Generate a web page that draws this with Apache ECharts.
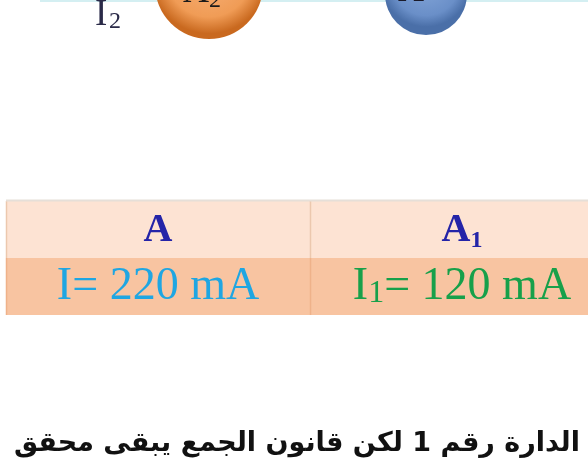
<!DOCTYPE html>
<html><head><meta charset="utf-8">
<script src="https://cdn.jsdelivr.net/npm/echarts@6/dist/echarts.min.js"></script>
<style>html,body{margin:0;padding:0;background:#fff}#c{width:588px;height:468px}</style>
</head><body><div id="c"></div>
<script>
// ---- data ----
const meterNames = ['A', 'A1'];          // ammeters (table header)
const currentNames = ['I', 'I1'];        // current symbols
const currentValues = [220, 120];        // mA
const unit = 'mA';
const rowKeys = ['meter', 'current'];
const caption = 'الدارة رقم 1 لكن قانون الجمع يبقى محقق';
const topLabels = ['I2', 'A2', 'A1'];

// ---- styles ----
const SERIF = '"Liberation Serif","Times New Roman",serif';
const valueColors = ['#1fa6e2', '#17a04a'];
const headerColor = '#2424a8';

function subText(name, mainStyle, subStyle) {
  const base = name.charAt(0), sub = name.slice(1);
  return '{' + mainStyle + '|' + base + '}' + (sub ? '{' + subStyle + '|' + sub + '}' : '');
}

const rich = {
  h: { fontFamily: SERIF, fontSize: 40, fontWeight: 'bold', fill: headerColor, lineHeight: 44 },
  hs: { fontFamily: SERIF, fontSize: 24, fontWeight: 'bold', fill: headerColor, lineHeight: 34, verticalAlign: 'bottom' }
};
valueColors.forEach((c, i) => {
  rich['v' + i] = { fontFamily: SERIF, fontSize: 46, fill: c, lineHeight: 46 };
  rich['vs' + i] = { fontFamily: SERIF, fontSize: 32, fill: c, lineHeight: 28, verticalAlign: 'bottom' };
});

const cells = [];
meterNames.forEach((m, i) => rowKeys.forEach((r, j) => cells.push([i, j])));

// baseline helper for plain graphic texts (zrender draws with a 'middle' baseline)
function base(y, size) { return y - 0.34 * size; }

const chart = echarts.init(document.getElementById('c'), null, { renderer: 'canvas' });
chart.setOption({
  animation: false,
  backgroundColor: '#ffffff',
  grid: { left: 6, top: 201, right: 0, height: 114 },
  xAxis: { type: 'value', min: -0.5, max: 1.4145, show: false },
  yAxis: { type: 'category', data: rowKeys, show: false, inverse: true, boundaryGap: true },
  series: [{
    type: 'custom',
    clip: false,
    data: cells,
    encode: { x: 0, y: 1 },
    renderItem: function (params, api) {
      const col = api.value(0), row = api.value(1);
      const c = api.coord([col, row]);
      const s = api.size([1, 1]);
      const x = c[0] - s[0] / 2, y = c[1] - s[1] / 2;
      let text;
      if (row === 0) {
        text = subText(meterNames[col], 'h', 'hs');
      } else {
        text = subText(currentNames[col], 'v' + col, 'vs' + col) +
          '{v' + col + '|= ' + currentValues[col] + ' ' + unit + '}';
      }
      const children = [
        { type: 'rect', shape: { x: x, y: y, width: s[0], height: s[1] },
          style: { fill: row === 0 ? '#fde3d3' : '#f8c4a1' } },
        { type: 'line', shape: { x1: x + 0.5, y1: y, x2: x + 0.5, y2: y + s[1] },
          style: { stroke: row === 0 ? '#ecc8ae' : '#efb28a', lineWidth: 1.5 } },
        { type: 'text', x: c[0], y: c[1] + (row === 0 ? 1 : 0),
          style: { text: text, rich: rich, align: 'center', verticalAlign: 'middle' } }
      ];
      if (row === 0) {
        children.push({ type: 'line', shape: { x1: x, y1: y - 0.5, x2: x + s[0], y2: y - 0.5 },
          style: { stroke: '#e6dfd8', lineWidth: 2 } });
      }
      return { type: 'group', children: children };
    }
  }],
  graphic: [
    // wire at the top
    { type: 'line', shape: { x1: 40, y1: 1, x2: 588, y2: 1 }, style: { stroke: '#d4eff2', lineWidth: 2 } },
    // ammeter A2 (orange)
    { type: 'circle', shape: { cx: 209, cy: -15, r: 54 },
      style: { fill: { type: 'radial', x: 0.5, y: 0.4, r: 0.55,
        colorStops: [{ offset: 0, color: '#f7b27c' }, { offset: 0.72, color: '#f09c56' }, { offset: 1, color: '#c9691f' }] } } },
    { type: 'text', x: 183, y: base(5, 36), style: { text: topLabels[1].charAt(0), font: '36px ' + SERIF, fill: '#1a1a1a', verticalAlign: 'middle' } },
    { type: 'text', x: 209, y: base(9, 24), style: { text: topLabels[1].slice(1), font: '24px ' + SERIF, fill: '#1a1a1a', verticalAlign: 'middle' } },
    // ammeter A1 (blue)
    { type: 'circle', shape: { cx: 426, cy: -6, r: 41 },
      style: { fill: { type: 'radial', x: 0.5, y: 0.35, r: 0.55,
        colorStops: [{ offset: 0, color: '#86a8da' }, { offset: 0.75, color: '#6a8fc8' }, { offset: 1, color: '#4a6fa8' }] } } },
    { type: 'text', x: 398, y: base(4, 36), style: { text: topLabels[2].charAt(0), font: '36px ' + SERIF, fill: '#1a1a2a', verticalAlign: 'middle' } },
    // I2 label
    { type: 'text', x: 95, y: base(28, 37), style: { text: topLabels[0].charAt(0), font: '37px ' + SERIF, fill: '#2a2a48', verticalAlign: 'middle' } },
    { type: 'text', x: 109, y: base(30, 24), style: { text: topLabels[0].slice(1), font: '24px ' + SERIF, fill: '#2a2a48', verticalAlign: 'middle' } },
    // caption
    { type: 'text', x: 580, y: base(453, 27), style: { text: caption, font: 'bold 27px "DejaVu Sans", sans-serif', fill: '#111', align: 'right', verticalAlign: 'middle' } }
  ]
});
</script></body></html>
